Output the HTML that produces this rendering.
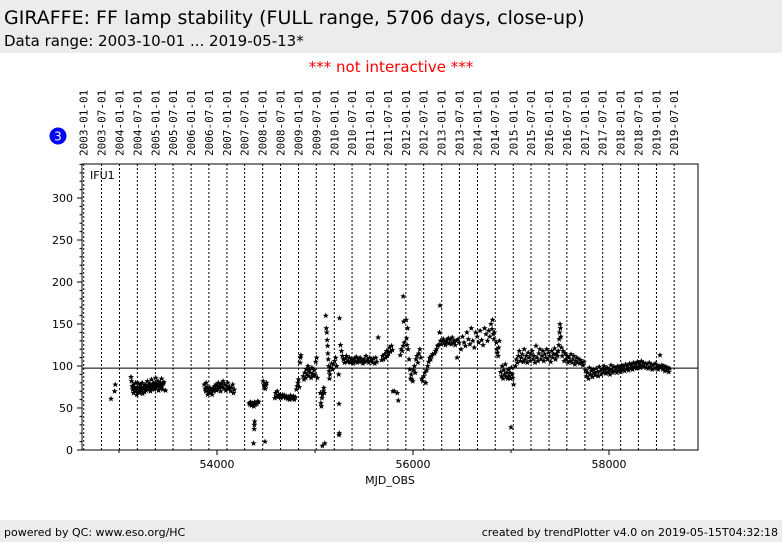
<!DOCTYPE html>
<html><head><meta charset="utf-8">
<style>
body{margin:0;width:782px;height:542px;background:#fff;font-family:"DejaVu Sans","Liberation Sans",sans-serif;position:relative;overflow:hidden}
#hdr{position:absolute;left:0;top:0;width:782px;height:53px;background:#ececec}
#t1{position:absolute;left:4px;top:7px;font-size:19px;color:#000;white-space:nowrap}
#t2{position:absolute;left:4px;top:32px;font-size:15px;color:#000;white-space:nowrap}
#ni{position:absolute;left:0;width:782px;top:58px;text-align:center;color:#f00;font-size:15px}
#ftr{position:absolute;left:0;top:520px;width:782px;height:22px;background:#ececec;font-size:11px}
#fl{position:absolute;left:4px;top:6px}
#fr{position:absolute;right:4px;top:6px}
svg{position:absolute;left:0;top:0}
</style></head><body>
<div id="hdr">
<div id="t1">GIRAFFE: FF lamp stability (FULL range, 5706 days, close-up)</div>
<div id="t2">Data range: 2003-10-01 ... 2019-05-13*</div>
</div>
<div id="ni">*** not interactive ***</div>
<svg id="chart" width="782" height="542"></svg>
<div id="ftr">
<span id="fl">powered by QC: www.eso.org/HC</span>
<span id="fr">created by trendPlotter v4.0 on 2019-05-15T04:32:18</span>
</div>
<script>
const dateTicks=["2003-01-01","2003-07-01","2004-01-01","2004-07-01","2005-01-01","2005-07-01","2006-01-01","2006-07-01","2007-01-01","2007-07-01","2008-01-01","2008-07-01","2009-01-01","2009-07-01","2010-01-01","2010-07-01","2011-01-01","2011-07-01","2012-01-01","2012-07-01","2013-01-01","2013-07-01","2014-01-01","2014-07-01","2015-01-01","2015-07-01","2016-01-01","2016-07-01","2017-01-01","2017-07-01","2018-01-01","2018-07-01","2019-01-01","2019-07-01"];
const xTicks=[54000,56000,58000];
const yTicks=[0,50,100,150,200,250,300];
const refLevel=97.5;
const ffSeries=[
[52918,61],[52955,70],[52962,78],
[53122,87],[53128,82],[53135,76],[53140,72],[53148,68],[53152,78],[53158,74],[53165,70],[53170,80],[53176,73],[53182,66],[53188,75],[53194,71],[53200,79],[53206,68],[53212,74],[53218,77],[53224,70],[53230,72],[53236,80],[53242,67],[53248,75],[53254,73],[53260,69],[53266,78],[53272,74],[53278,71],[53284,76],[53290,82],[53296,72],[53302,77],[53308,74],[53314,79],[53320,70],[53326,76],[53332,84],[53338,73],[53344,78],[53350,75],[53356,80],[53362,72],[53368,77],[53374,86],[53380,74],[53386,79],[53392,76],[53398,82],[53404,71],[53410,78],[53416,75],[53422,80],[53428,74],[53434,85],[53440,77],[53446,72],[53452,79],[53458,81],[53475,71],
[53870,78],[53878,73],[53885,70],[53890,80],[53898,75],[53905,66],[53912,72],[53920,69],[53928,74],[53935,68],[53942,71],[53950,66],[53958,73],[53966,70],[53974,76],[53982,72],[53990,78],[53998,71],[54006,75],[54014,80],[54022,74],[54030,77],[54038,70],[54046,79],[54054,75],[54062,82],[54070,73],[54080,78],[54090,71],[54100,76],[54110,80],[54120,73],[54130,75],[54140,70],[54150,74],[54160,78],[54168,68],[54176,72],
[54328,56],[54336,54],[54344,57],[54352,53],[54360,56],[54368,55],[54376,52],[54384,57],[54392,54],[54400,56],[54408,55],[54416,58],[54424,57],[54372,8],[54380,25],[54382,30],[54385,34],[54490,10],
[54470,82],[54478,78],[54485,75],[54492,73],[54500,77],[54505,80],
[54590,62],[54598,68],[54606,64],[54614,70],[54622,63],[54630,66],[54640,65],[54650,62],[54660,64],[54670,66],[54680,63],[54690,65],[54700,62],[54710,64],[54720,61],[54730,63],[54740,60],[54750,65],[54760,62],[54770,61],[54780,64],[54790,60],[54800,63],
[54810,72],[54818,76],[54825,80],[54832,84],[54840,75],[54848,104],[54852,110],[54856,113],
[54880,88],[54888,84],[54896,92],[54904,86],[54912,96],[54920,90],[54928,100],[54936,88],[54944,95],[54952,92],[54960,86],[54968,98],[54976,91],[54984,88],[54992,95],[55000,89],[55008,105],[55016,110],[55024,86],
[55055,68],[55060,56],[55065,52],[55070,62],[55075,66],[55085,70],[55090,74],[55095,68],[55075,5],[55100,8],
[55110,160],[55115,145],[55120,140],[55124,131],[55128,124],[55132,115],[55136,108],[55140,100],[55144,94],[55148,85],[55152,90],[55160,98],[55170,103],[55180,96],[55190,102],[55200,106],[55210,110],[55220,100],
[55245,18],[55248,20],[55245,55],[55242,90],[55250,157],[55260,125],[55270,118],[55280,112],[55290,108],[55300,104],[55310,109],[55320,112],[55330,105],[55340,106],[55350,110],[55360,104],[55370,108],[55380,107],[55390,103],[55400,109],[55410,106],[55420,111],[55430,104],[55440,108],[55450,105],[55460,110],[55470,106],[55480,107],[55490,103],[55500,108],[55510,105],[55520,112],[55530,106],[55540,108],[55550,104],[55560,110],[55570,106],[55580,108],[55590,104],[55600,109],[55610,103],[55620,110],[55630,105],[55645,134],
[55680,107],[55690,112],[55700,108],[55710,114],[55720,110],[55730,118],[55740,112],[55750,115],[55760,122],[55770,117],[55780,124],[55790,119],[55795,70],[55810,70],[55840,68],[55850,59],[55870,113],[55880,120],[55890,118],[55900,124],[55905,153],[55910,128],[55900,183],[55930,155],[55935,133],[55940,125],[55945,145],[55950,120],
[55960,108],[55968,96],[55975,85],[55982,90],[55990,84],[55998,82],[56006,95],[56014,100],[56022,92],[56030,108],[56040,112],[56050,104],[56060,115],[56070,120],[56080,110],[56090,85],[56100,82],[56110,88],[56120,92],[56130,80],[56140,95],[56150,100],[56160,105],[56170,110],[56180,108],[56190,112],[56200,114],
[56220,115],[56230,118],[56240,120],[56250,124],[56260,125],[56270,140],[56275,172],[56280,130],[56290,126],[56300,130],[56310,132],[56320,128],[56330,125],[56340,130],[56350,128],[56360,133],[56370,127],[56380,131],[56390,126],[56400,134],[56410,128],[56420,130],[56430,125],[56440,130],[56450,110],[56460,132],[56470,128],
[56490,120],[56505,135],[56520,128],[56535,124],[56550,140],[56565,132],[56580,126],[56595,145],[56610,130],[56625,122],[56640,140],[56655,135],[56670,128],[56685,142],[56700,131],[56715,125],[56730,145],[56745,138],[56760,130],[56772,142],[56784,135],[56796,150],[56806,144],[56812,155],[56818,138],[56824,132],[56830,140],
[56850,128],[56856,120],[56862,116],[56868,112],[56874,122],[56880,130],
[56895,93],[56902,88],[56910,100],[56918,85],[56926,95],[56934,90],[56942,102],[56950,87],[56958,92],[56966,85],[56974,96],[56982,88],[56990,92],[56996,85],[57004,98],[57012,90],[57018,86],[57026,78],[57000,27],
[57045,100],[57055,108],[57065,104],[57075,112],[57085,118],[57095,106],[57105,110],[57115,114],[57125,105],[57135,120],[57145,108],[57155,112],[57165,104],[57175,116],[57185,110],[57195,106],[57205,114],[57215,118],[57225,108],[57235,112],[57245,104],[57255,124],[57265,110],[57275,106],[57285,115],[57295,120],[57305,108],[57315,112],[57325,118],[57335,106],[57345,114],[57355,110],[57365,120],[57375,108],[57385,116],[57395,112],[57405,105],[57415,118],[57425,110],[57435,114],[57445,121],[57455,108],[57465,115],[57475,112],[57482,118],[57488,125],[57492,132],[57496,140],[57500,150],[57504,145],[57508,135],[57514,122],[57522,112],[57532,118],[57542,106],[57552,115],[57562,108],[57572,112],[57582,104],[57592,110],[57602,106],[57612,114],[57622,104],[57632,108],[57642,112],[57652,102],[57662,106],[57672,110],[57682,104],[57692,108],[57702,103],[57712,107],[57722,104],[57735,101],[57745,105],
[57760,95],[57770,88],[57780,92],[57790,85],[57800,98],[57810,90],[57820,94],[57830,87],[57840,96],[57850,92],[57860,89],[57870,97],[57880,93],[57890,88],[57900,99],[57910,94],[57920,90],[57930,96],[57940,92],[57950,100],[57960,95],[57970,91],[57980,98],[57990,93],[58000,96],[58010,90],[58020,101],[58030,95],[58040,92],[58050,99],[58060,94],[58070,97],[58080,92],[58090,100],[58100,95],[58110,98],
[58120,93],[58130,101],[58140,96],[58150,99],[58160,94],[58170,102],[58180,97],[58190,100],[58200,95],[58210,103],[58220,98],[58230,101],[58240,96],[58250,104],[58260,99],[58270,102],[58280,97],[58290,105],[58300,100],[58310,103],[58320,98],[58330,106],[58340,101],[58350,104],[58360,99],[58370,103],[58380,98],[58390,102],[58400,97],[58410,104],[58420,99],[58430,102],[58440,96],[58450,101],[58460,97],[58470,103],[58480,98],[58490,101],[58500,96],[58510,100],[58520,113],[58530,98],[58540,101],[58550,96],[58560,100],[58570,94],[58580,99],[58590,95],[58600,98],[58610,93],[58620,97]
];
const svg=document.getElementById('chart');
const NS='http://www.w3.org/2000/svg';
const L=82,R=698,T=164,B=450;
const xMin=52622.4,xMax=58908,yMin=0,yMax=340.5;
function xs(v){return L+(v-xMin)/(xMax-xMin)*(R-L);}
function ys(v){return B-(v-yMin)/(yMax-yMin)*(B-T);}
function mk(tag,attrs){const e=document.createElementNS(NS,tag);for(const k in attrs)e.setAttribute(k,attrs[k]);svg.appendChild(e);return e;}
function toMjd(s){return Date.parse(s+'T00:00:00Z')/86400000+40587;}
dateTicks.forEach(d=>{
  const x=xs(toMjd(d));
  const g=mk('line',{x1:x,x2:x,y1:T,y2:B,stroke:'#000','stroke-width':1,'stroke-dasharray':'2,2'});
  
  
  const t=mk('text',{x:0,y:0,transform:`translate(${x+4},156) rotate(-90)`,'font-size':'11','font-family':'DejaVu Sans Mono,Liberation Mono,monospace',fill:'#000'});
  t.textContent=d;
  
  
});
const fr=mk('rect',{x:L,y:T,width:R-L,height:B-T,fill:'none',stroke:'#000','stroke-width':1});


yTicks.forEach(v=>{
  const y=ys(v);
  const l=mk('line',{x1:L,x2:L-5,y1:y,y2:y,stroke:'#000'});
  
  
  const t=mk('text',{x:L-9,y:y+4,'text-anchor':'end','font-size':'11',fill:'#000'});
  t.textContent=v;
  
  
});
for(let v=10;v<yMax;v+=10){if(v%50){const y=ys(v);const l=mk('line',{x1:L,x2:L-2.5,y1:y,y2:y,stroke:'#000'});}}
xTicks.forEach(v=>{
  const x=xs(v);
  const l=mk('line',{x1:x,x2:x,y1:B,y2:B+5,stroke:'#000'});
  
  
  const t=mk('text',{x:x,y:B+18,'text-anchor':'middle','font-size':'11',fill:'#000'});
  t.textContent=v;
  
  
});
[53000,55000,57000].forEach(v=>{const x=xs(v);const l=mk('line',{x1:x,x2:x,y1:B,y2:B+3,stroke:'#000'});});
const xt=mk('text',{x:390,y:484,'text-anchor':'middle','font-size':'11',fill:'#000'});
xt.textContent='MJD_OBS';


const lab=mk('text',{x:90,y:179,'font-size':'11',fill:'#000'});
lab.textContent='IFU1';


const rl=mk('line',{x1:L,x2:R,y1:ys(refLevel),y2:ys(refLevel),stroke:'#000','stroke-width':1});


const bc=mk('circle',{cx:58,cy:136,r:8.5,fill:'#0000ff'});


const bt=mk('text',{x:58,y:140.5,'text-anchor':'middle','font-size':'12',fill:'#fff'});
bt.textContent='3';


const star='M0,-3 L0.9,-0.9 L3,-0.9 L1.3,0.5 L1.9,2.7 L0,1.3 L-1.9,2.7 L-1.3,0.5 L-3,-0.9 L-0.9,-0.9Z';
ffSeries.forEach(p=>{
  const s=mk('path',{d:star,transform:`translate(${xs(p[0]).toFixed(1)},${ys(p[1]).toFixed(1)})`,fill:'#000'});
  
  
});
</script>
</body></html>
